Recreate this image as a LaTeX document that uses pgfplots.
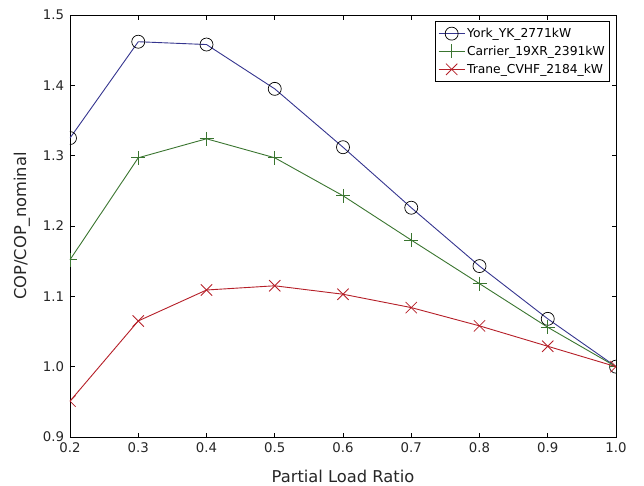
\documentclass[border=0pt]{standalone}
\usepackage{fontspec}
\setmainfont{DejaVu Sans}
\usepackage{pgfplots}
\pgfplotsset{compat=1.18}
\definecolor{cblue}{HTML}{35358F}
\definecolor{cgreen}{HTML}{3A7530}
\definecolor{cred}{HTML}{B51F28}
\begin{document}
\begin{tikzpicture}
\begin{axis}[
    name=ax,
    scale only axis,
    width=546pt, height=422pt,
    xmin=0.2, xmax=1.0, ymin=0.9, ymax=1.5,
    xtick={0.2,0.3,0.4,0.5,0.6,0.7,0.8,0.9,1.0},
    ytick={0.9,1.0,1.1,1.2,1.3,1.4,1.5},
    minor tick num=0,
    tick align=inside,
    major tick length=4.5pt,
    axis line style={line width=0.9pt},
    tick style={line width=0.7pt, black},
    /pgf/number format/assume math mode=true,
    /pgf/number format/.cd, fixed, fixed zerofill, precision=1, /pgfplots/.cd,
    tick label style={font=\fontsize{13.3}{16}\selectfont, text=black!85},
    yticklabel style={xshift=-2.5pt},
    xticklabel style={yshift=-2pt},
    label style={font=\fontsize{16.3}{19}\selectfont, text=black!85},
    xlabel={Partial Load Ratio},
    ylabel={COP/COP\_nominal},
    xlabel style={at={(axis description cs:0.5,-0.0924)}, anchor=center},
    ylabel style={at={(axis description cs:-0.088,0.5)}, anchor=center, rotate=0},
    clip marker paths=true,
    legend style={at={(0.989,0.986)}, anchor=north east, draw=black, line width=0.6pt,
      font=\fontsize{12.3}{15}\selectfont, row sep=3pt, inner xsep=3pt, inner ysep=5pt},
    legend cell align=left,
    legend image code/.code={\draw[mark repeat=2,mark phase=2] plot coordinates {(0pt,0pt) (13pt,0pt) (26pt,0pt)};},
]
\addplot[color=cblue, line width=0.9pt, mark=o, mark size=6.5pt, mark options={draw=black, fill=white, line width=0.7pt}]
coordinates {(0.2,1.325) (0.3,1.462) (0.4,1.458) (0.5,1.395) (0.6,1.312) (0.7,1.226) (0.8,1.143) (0.9,1.068) (1.0,1.0)};
\addplot[color=cgreen, line width=0.9pt, mark=+, mark size=7pt, mark options={line width=0.8pt}]
coordinates {(0.2,1.152) (0.3,1.297) (0.4,1.324) (0.5,1.297) (0.6,1.243) (0.7,1.180) (0.8,1.118) (0.9,1.056) (1.0,1.0)};
\addplot[color=cred, line width=0.9pt, mark=x, mark size=8pt, mark options={line width=0.8pt}]
coordinates {(0.2,0.951) (0.3,1.065) (0.4,1.109) (0.5,1.115) (0.6,1.103) (0.7,1.084) (0.8,1.058) (0.9,1.029) (1.0,1.0)};
\legend{York\_YK\_2771kW, Carrier\_19XR\_2391kW, Trane\_CVHF\_2184\_kW}
\end{axis}
\path ([xshift=-70pt,yshift=-48pt]ax.south west) rectangle ([xshift=28pt,yshift=15pt]ax.north east);
\end{tikzpicture}
\end{document}
